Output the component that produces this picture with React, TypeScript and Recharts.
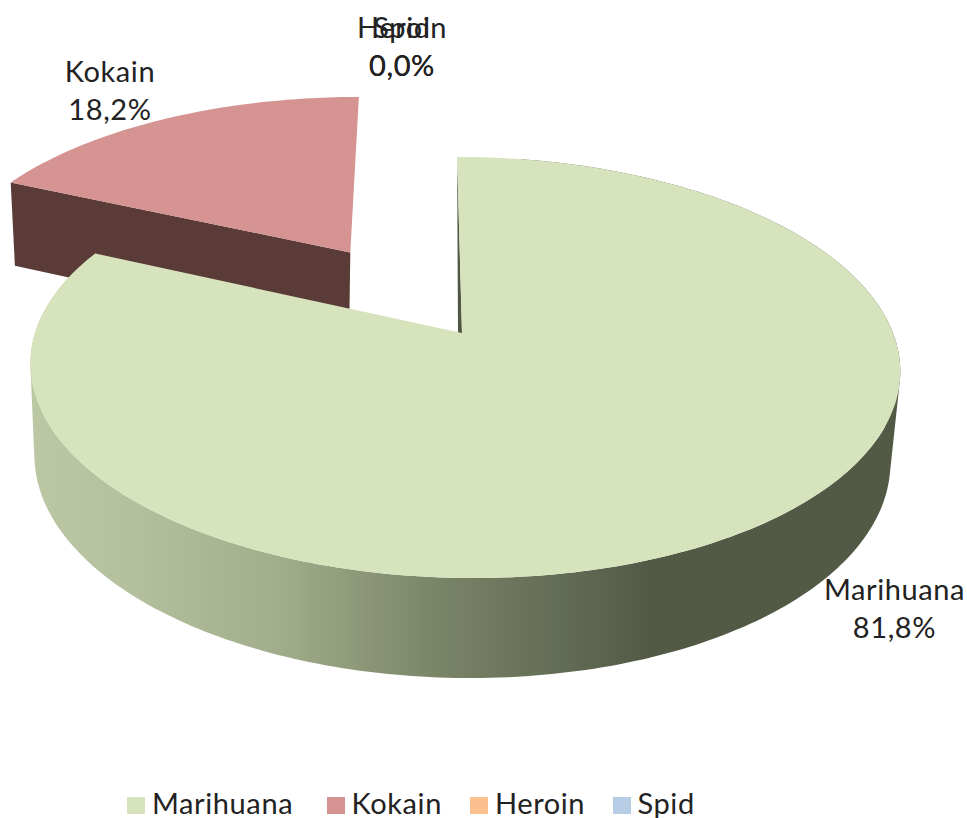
import React from 'react';
import { PieChart, Pie, Legend } from 'recharts';

const names = ['Marihuana', 'Kokain', 'Heroin', 'Spid'];
const shares = [81.8, 18.2, 0, 0];
const topColors = ['#d7e3bc', '#d59391', '#fac08f', '#b7cde6'];
const wallColors = ['url(#wallGreen)', '#5a3b38', '#8a6a4a', '#5a6a80'];

const data = names.map((name, i) => ({
  name,
  value: shares[i],
  fill: topColors[i],
  wall: wallColors[i],
}));

// how far a slice is pulled out, in pie radii
const explode: Record<string, number> = { Kokain: 0.5 };

const labelSpots: Record<string, [number, number]> = {
  Marihuana: [894.5, 591],
  Kokain: [110, 73],
  Heroin: [402, 29],
  Spid: [402, 29],
};
const legendLefts = [127, 326.5, 470, 612.5];

// perspective of the tilted pie
const TILT = 0.1639;
const RISE = -150.3;
const SHEAR = -8;
const SHRINK = 0.984;
const DEPTH = 100;
const FONT = { fontFamily: 'Lato', fontSize: 29, letterSpacing: 0.6 };

const project = (cx: number, cy: number, r: number, u: number, v: number, bottom = false) => {
  const w = 1 + TILT * v;
  let x = cx + (r * u + SHEAR * v) / w;
  let y = (RISE * v + cy) / w;
  if (bottom) {
    x = cx - 3 + (x - cx) * SHRINK;
    y += DEPTH * Math.pow(0.836 / w, 0.6);
  }
  return [x, y];
};

const toPath = (pts: number[][]) =>
  'M' + pts.map((p) => `${p[0].toFixed(1)} ${p[1].toFixed(1)}`).join('L') + 'Z';

// same winding for every quad, otherwise overlaps at the fold of the wall cancel out
const wound = (pts: number[][]) => {
  let area = 0;
  pts.forEach((p, i) => {
    const q = pts[(i + 1) % pts.length];
    area += p[0] * q[1] - q[0] * p[1];
  });
  return area < 0 ? [...pts].reverse() : pts;
};

const Slice3D = (props: any) => {
  const { cx, cy, outerRadius, startAngle, endAngle, fill, wall, name, midAngle, only } = props;
  if (name !== only || startAngle === endAngle) return <g />;

  const pull = explode[name] ?? 0;
  const mid = ((midAngle ?? (startAngle + endAngle) / 2) * Math.PI) / 180;
  const du = pull * Math.cos(mid) - (pull ? 0.005 : 0);
  const dv = pull * Math.sin(mid);

  const steps = Math.ceil(Math.abs(endAngle - startAngle));
  const rim: [number, number][] = [];
  for (let i = 0; i <= steps; i++) {
    const a = ((startAngle + ((endAngle - startAngle) * i) / steps) * Math.PI) / 180;
    rim.push([du + Math.cos(a), dv + Math.sin(a)]);
  }
  const ring = (bottom = false) => rim.map(([u, v]) => project(cx, cy, outerRadius, u, v, bottom));

  const upper = ring();
  const lower = ring(true);
  const hub = project(cx, cy, outerRadius, du, dv);
  if (!pull) hub[0] -= 2;
  const hubLow = project(cx, cy, outerRadius, du, dv, true);

  // the cut face that can be seen: a thin sliver on the big slice, the full wall on the pulled one
  const face = pull
    ? [hub, upper[0], lower[0], hubLow]
    : [hub, upper[0], [hub[0] - 4, hub[1]]];

  // outer wall swept step by step; the pulled slice shows none, its rim faces away
  let outer = '';
  if (!pull) {
    for (let i = 10; i < steps; i++) {
      outer += toPath(wound([upper[i], upper[i + 1], lower[i + 1], lower[i]]));
    }
  }

  return (
    <g>
      <path d={toPath(face)} fill={pull ? wall : '#4f5843'} />
      {outer && <path d={outer} fill={wall} />}
      <path d={toPath([hub, ...upper])} fill={fill} />
    </g>
  );
};

const sliceLabel = (props: any) => {
  const spot = labelSpots[props.name];
  const pct = `${props.value.toFixed(1).replace('.', ',')}%`;
  return (
    <text x={spot[0]} y={spot[1]} textAnchor="middle" {...FONT} fill="#222">
      <tspan x={spot[0]} dy={9}>{props.name}</tspan>
      <tspan x={spot[0]} dy={38}>{pct}</tspan>
    </text>
  );
};

const legendContent = () => (
  <div style={{ position: 'relative', height: 30, ...FONT, color: '#222' }}>
    {names.map((name, i) => (
      <span
        key={name}
        style={{ position: 'absolute', left: legendLefts[i], top: 0, whiteSpace: 'nowrap', lineHeight: '30px' }}
      >
        <span style={{ display: 'inline-block', width: 18, height: 17, marginRight: 7, background: topColors[i] }} />
        {name}
      </span>
    ))}
  </div>
);

export default function App() {
  return (
    <div style={{ position: 'absolute', left: 0, top: 0 }}>
      <PieChart width={967} height={818} margin={{ top: 0, right: 0, bottom: 0, left: 0 }}>
        <defs>
          <linearGradient id="wallGreen" gradientUnits="userSpaceOnUse" x1={30} y1={0} x2={890} y2={0}>
            <stop offset="0" stopColor="#bcc8a4" />
            <stop offset="0.12" stopColor="#b4c09d" />
            <stop offset="0.28" stopColor="#a3af8c" />
            <stop offset="0.465" stopColor="#7c8669" />
            <stop offset="0.72" stopColor="#525a46" />
            <stop offset="1" stopColor="#525a46" />
          </linearGradient>
        </defs>
        <Pie
          data={data}
          dataKey="value"
          nameKey="name"
          cx={464}
          cy={333}
          outerRadius={429}
          startAngle={90}
          endAngle={-270}
          stroke="none"
          legendType="none"
          isAnimationActive={false}
          shape={(p: any) => <Slice3D {...p} only="Kokain" />}
        />
        <Pie
          data={data}
          dataKey="value"
          nameKey="name"
          cx={464}
          cy={333}
          outerRadius={429}
          startAngle={90}
          endAngle={-270}
          stroke="none"
          isAnimationActive={false}
          shape={(p: any) => <Slice3D {...p} only="Marihuana" />}
          label={sliceLabel}
          labelLine={false}
        />
        <Legend verticalAlign="bottom" wrapperStyle={{ left: 0, bottom: 0, width: 967, height: 30, top: 788 }} content={legendContent} />
      </PieChart>
    </div>
  );
}
